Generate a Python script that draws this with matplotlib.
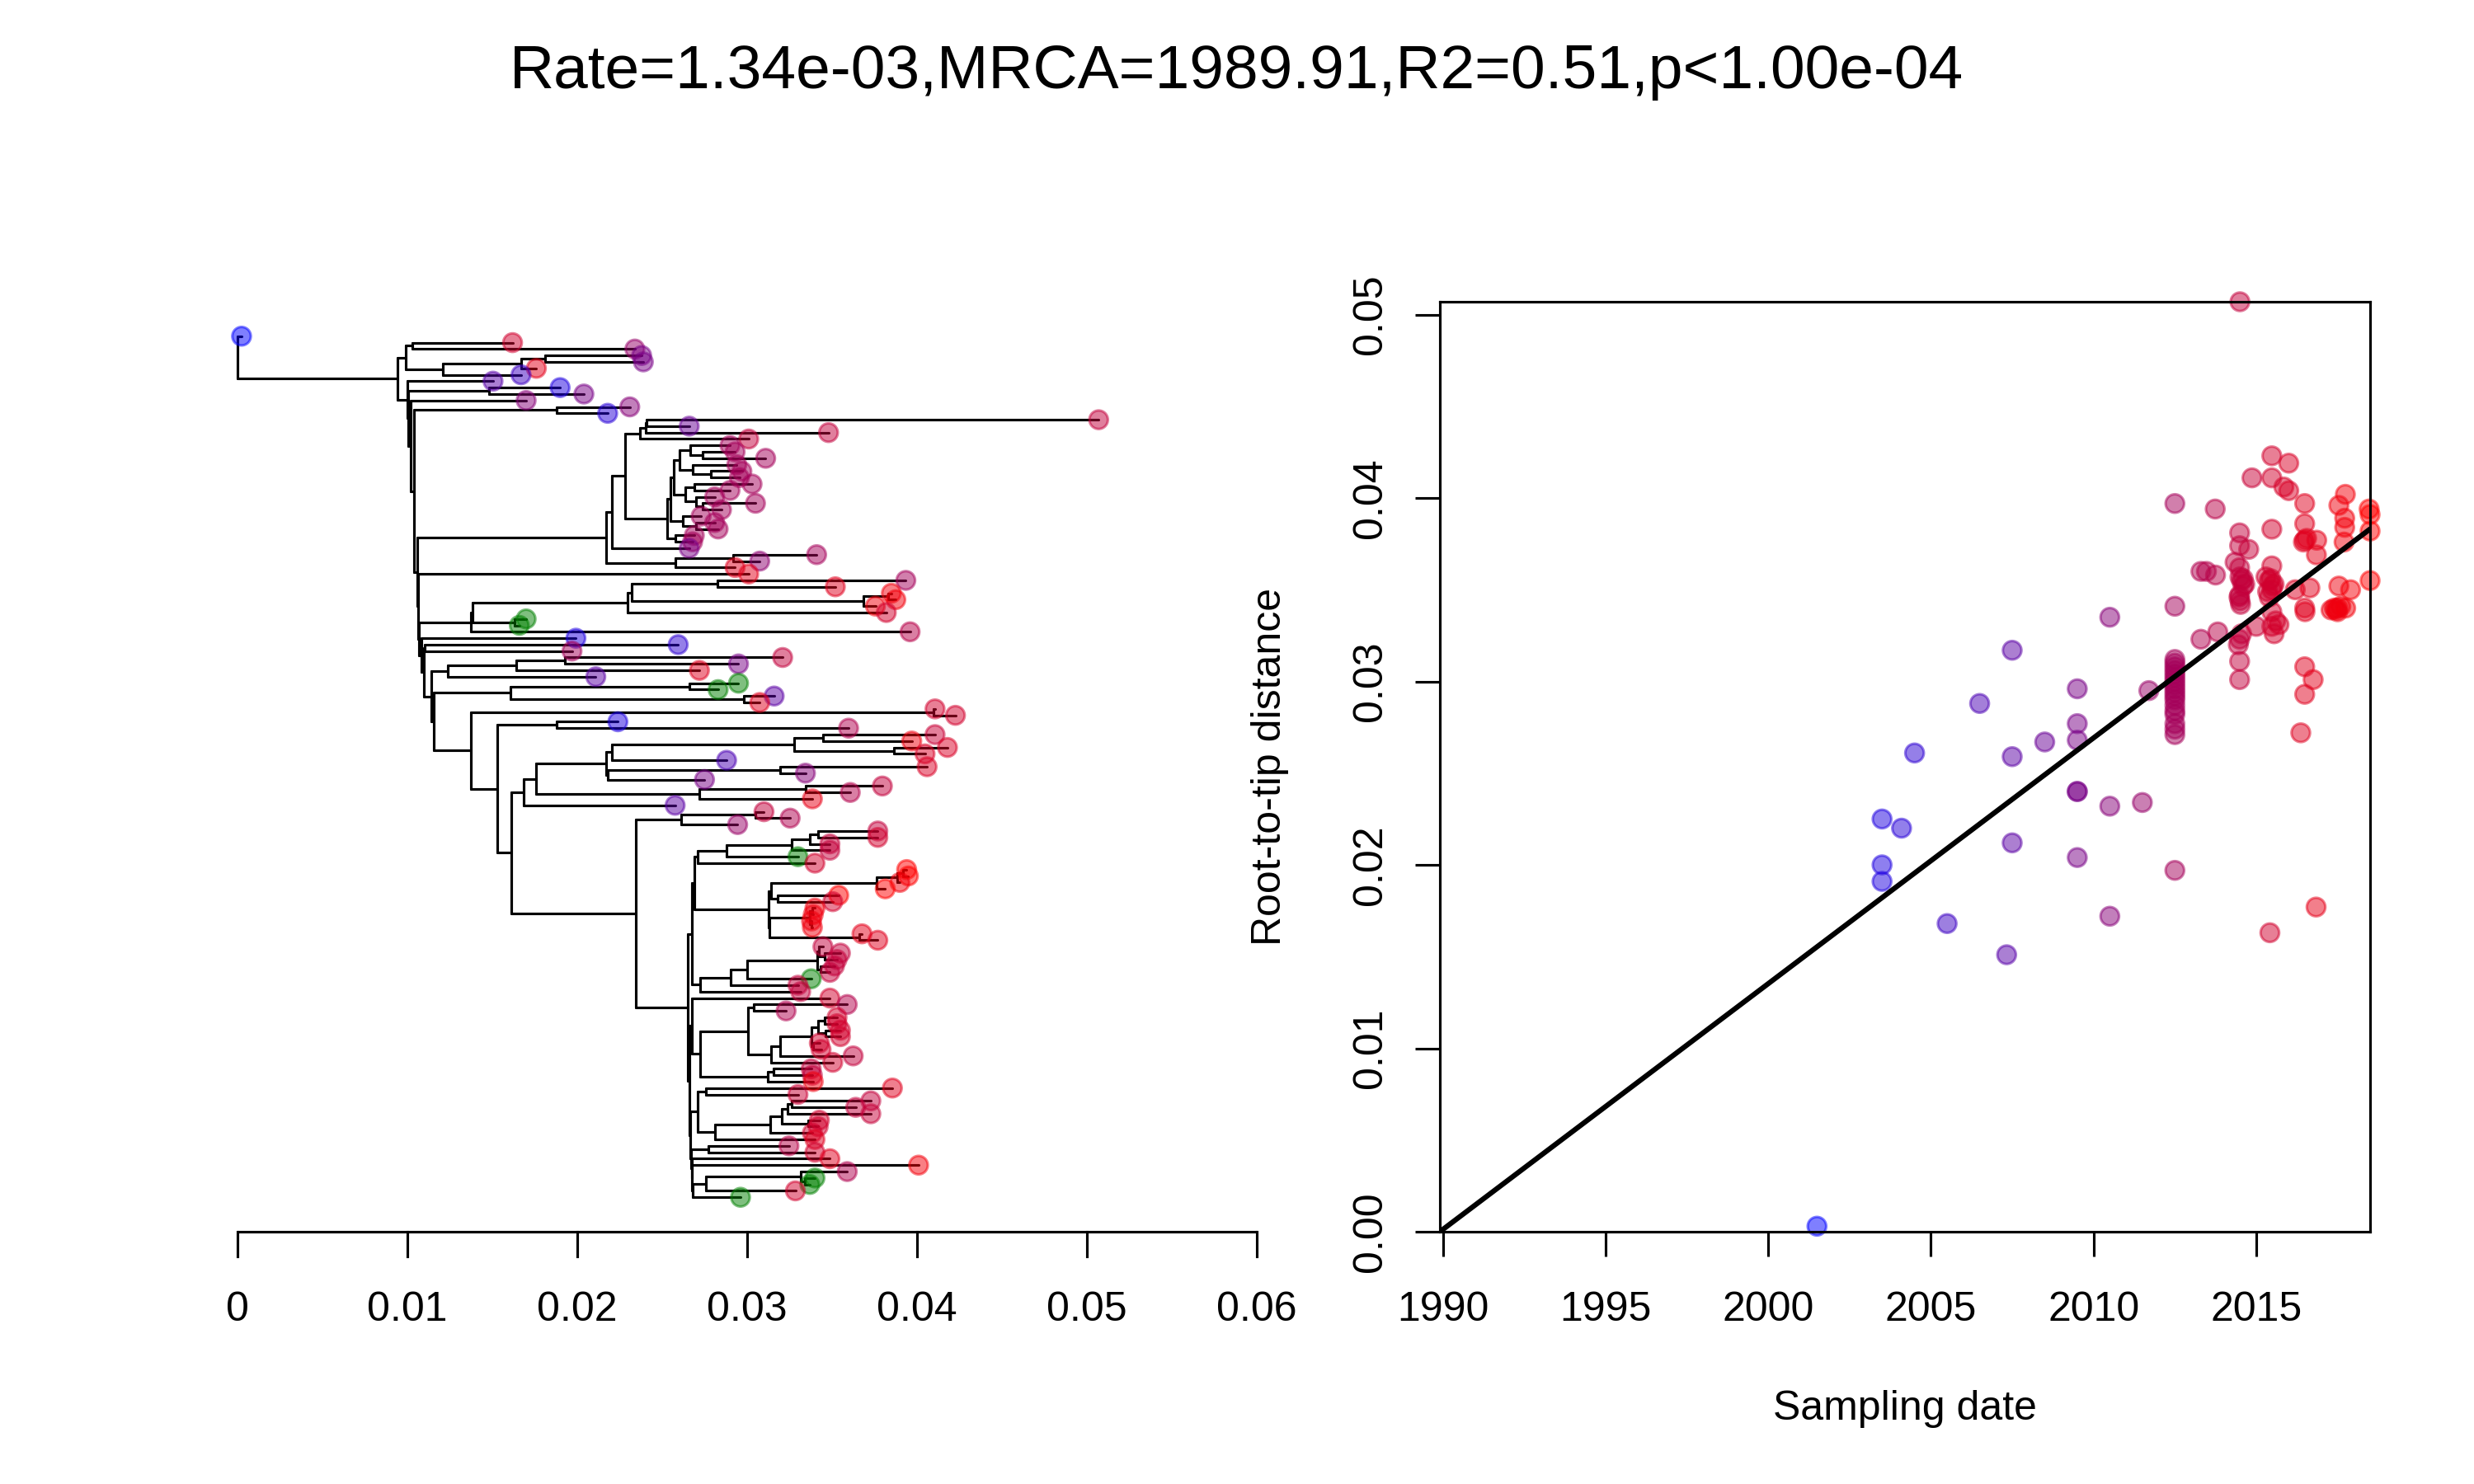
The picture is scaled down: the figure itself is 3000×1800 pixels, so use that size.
import numpy as np
import matplotlib
matplotlib.use("Agg")
import matplotlib.pyplot as plt
from matplotlib.collections import LineCollection
from matplotlib import transforms

plt.rcParams['font.family'] = ['Liberation Sans', 'DejaVu Sans']

# ---------------- data ----------------
title_text = "Rate=1.34e-03,MRCA=1989.91,R2=0.51,p<1.00e-04"
rate = 1.34e-3
mrca = 1989.91

# root-to-tip scatter (sampling date, root-to-tip distance)
scatter_dates = [
    2001.5, 2003.5, 2004.1, 2003.5, 2003.5, 2004.5, 2005.5, 2006.5, 2007.5, 2007.5,
    2007.5, 2007.33, 2008.5, 2009.5, 2009.5, 2009.5, 2009.5, 2009.5, 2009.5, 2010.5,
    2010.5, 2010.5, 2011.5, 2011.7, 2012.5, 2012.5, 2012.5,
    2012.5, 2012.5, 2012.5, 2012.5, 2012.5, 2012.5, 2012.5, 2012.5, 2012.5,
    2012.5, 2012.5, 2012.5, 2012.5, 2012.5, 2012.5, 2012.5, 2012.5, 2012.5,
    2013.3, 2013.47, 2013.75, 2013.74, 2013.3, 2013.82,
    2014.5, 2014.49, 2014.49, 2014.77, 2014.35, 2014.49, 2014.6, 2014.65, 2014.55,
    2014.49, 2014.5, 2014.52, 2014.49, 2014.55, 2014.49, 2014.49, 2014.87, 2015.0,
    2015.48, 2015.48, 2016.0, 2015.85, 2016.0, 2015.48, 2015.48, 2015.3, 2015.4,
    2015.55, 2015.48, 2015.4, 2015.48, 2015.48, 2015.7, 2015.42,
    2016.49, 2016.49, 2016.49, 2016.55, 2016.86, 2016.85, 2016.2, 2016.65, 2016.49,
    2016.5, 2016.49, 2016.75, 2016.49, 2016.37, 2016.84,
    2017.74, 2017.54, 2017.72, 2017.72, 2017.7, 2017.54, 2017.9, 2017.3, 2017.4,
    2017.5, 2017.6, 2017.5, 2017.75,
    2018.47, 2018.5, 2018.5, 2018.5,
    2014.5, 2014.6, 2014.47, 2015.45, 2015.5, 2015.35, 2015.55, 2016.45, 2017.45,
    2014.45, 2015.6,
]
scatter_dists = [
    0.0003, 0.0225, 0.0220, 0.0200, 0.0191, 0.0261, 0.0168, 0.0288, 0.0317, 0.0259,
    0.0212, 0.0151, 0.0267, 0.0296, 0.0277, 0.0268, 0.0240, 0.0240, 0.0204, 0.0335,
    0.0232, 0.0172, 0.0234, 0.0295, 0.0397, 0.0341, 0.0197,
    0.0312, 0.0310, 0.0308, 0.0306, 0.0304, 0.0302, 0.0300, 0.0298, 0.0296,
    0.0294, 0.0292, 0.0290, 0.0287, 0.0284, 0.0282, 0.0277, 0.0274, 0.0271,
    0.0360, 0.0360, 0.0358, 0.0394, 0.0323, 0.0327,
    0.0507, 0.0381, 0.0374, 0.0372, 0.0365, 0.0362, 0.0356, 0.0353, 0.0355,
    0.0347, 0.0344, 0.0342, 0.0323, 0.0326, 0.0311, 0.0301, 0.0411, 0.0330,
    0.0423, 0.0411, 0.0419, 0.0406, 0.0404, 0.0383, 0.0363, 0.0357, 0.0355,
    0.0353, 0.0350, 0.0346, 0.0338, 0.0330, 0.0331, 0.0163,
    0.0397, 0.0386, 0.0377, 0.0378, 0.0377, 0.0369, 0.0350, 0.0351, 0.0340,
    0.0338, 0.0308, 0.0301, 0.0293, 0.0272, 0.0177,
    0.0402, 0.0396, 0.0389, 0.0384, 0.0376, 0.0352, 0.0350, 0.0339, 0.0340,
    0.0340, 0.0341, 0.0338, 0.0340,
    0.0394, 0.0391, 0.0382, 0.0355,
    0.0357, 0.0352, 0.0346, 0.0356, 0.0352, 0.0349, 0.0326, 0.0376, 0.0339,
    0.0320, 0.0333,
]

# sampling dates of tree tips t1..t135 (nan = undated, drawn green)
nan = float('nan')
tip_dates = [
    2001.5, 2015.4, 2011.5, 2009.5, 2009.5, 2016.8, 2005.5, 2007.3, 2003.5, 2009.5,
    2010.5, 2010.5, 2004.1, 2014.5, 2008.5, 2014.5, 2014.5, 2012.5, 2012.5, 2012.5,
    2012.5, 2012.5, 2012.5, 2012.5, 2012.5, 2012.5, 2012.5, 2012.5, 2012.5, 2012.5,
    2012.5, 2012.5, 2012.5, 2009.5, 2012.5, 2011.0, 2016.5, 2016.8, 2012.5, 2016.5,
    2017.7, 2017.7, 2017.7, 2015.5, nan, nan, 2013.7, 2003.5, 2004.5, 2012.5,
    2014.5, 2009.5, 2016.4, 2007.5, nan, nan, 2007.5, 2016.5, 2015.5, 2015.5,
    2003.5, 2013.3, 2014.9, 2017.5, 2016.0, 2016.0, 2006.5, 2016.0, 2010.5, 2009.5,
    2014.5, 2013.5, 2017.0, 2007.5, 2014.5, 2013.3, 2011.7, 2014.5, 2015.5, 2014.6,
    2014.6, nan, 2015.5, 2018.5, 2018.5, 2017.7, 2018.5, 2018.5, 2015.5, 2017.5,
    2017.5, 2017.5, 2017.5, 2016.8, 2016.5, 2014.5, 2014.5, 2014.6, 2014.6, 2014.6,
    nan, 2014.5, 2014.5, 2015.5, 2013.5, 2013.3, 2015.5, 2015.5, 2015.5, 2015.5,
    2015.5, 2015.5, 2014.5, 2015.5, 2014.5, 2014.5, 2017.5, 2016.5, 2015.0, 2014.5,
    2014.5, 2014.7, 2015.5, 2015.5, 2015.5, 2016.5, 2013.8, 2015.5, 2016.5, 2017.8,
    2013.3, nan, nan, 2015.5, nan,
]

# tree (Newick fragments, branch lengths in units of 1e-4 substitutions/site)
BL_UNIT = 1e-4
nw_N772 = "(((t18:23.6,(t19:19,t20:37):7.6):5.9,(t21:26,(t22:18.5,t23:17):10.5):7.5):3.5,((t24:34,t25:21):5.4,(t26:11,(t27:31,t28:11):4):6.4):6.6)"
nw_N788 = "(t29:11,(t30:11,t31:13):8)"
nw_N762 = "((" + nw_N772 + ":2," + nw_N788 + ":7):2,(t32:11,t33:10):5)"
nw_A = "((((((t14:266,t15:25):0.5,t16:107.5):3.5,t17:64):8.5," + nw_N762 + ":24.5):7.9,t34:45.4):3.6,((t35:49,t36:15.5):34,t37:35):41)"
nw_B = "(((((t39:111,t40:69.5):50.5,((t41:2,t42:4.6):14.6,t43:7.2):136.4):2.5,t44:152.5):91,(t45:7,t46:3):24.5):1,t47:258.5)"
nw_N657 = "((((t63:66,t64:52.3):16.7,(t65:31.4,t66:18.2):58.6):107.4,t67:67.4):3.6,((t68:86.4,t69:14.8):101.4,t70:56.8):1.2)"
nw_N817 = "((t71:45.3,t72:26.4):62.4,t73:66.5)"
nw_N813 = "(((((t78:35,t79:35):5.2,t80:12):10.3,t81:22.3):38.5,t82:42):17.2,t83:69.2)"
nw_N935 = "(((((t84:2.2,t85:3.2):3.5,t86:1.7):12,t87:5.1):61.9,(t88:36.1,t89:32.6):3.5):1.7,(((t90:1.5,t91:0.5):1.7,(t92:0.2,t93:0.7):1):23.6,(t94:1.7,t95:11):52.8):0.5)"
nw_N818 = "(((((t96:2.2,(t97:9.5,t98:7.5):3):1.3,(t99:8,t100:5.3):2.3):41.2,t101:37.8):9.6,t102:39.6):17.9,t103:59.1)"
nw_N818b = "(((t105:55,t106:19):3.3,(((((t107:7.5,t108:7.5):3.5,(t109:9,t110:9):4):4.2,(t111:3.6,t112:4.6):1.2):18.2,t113:42.9):5.2,t114:36.1):13.7):28.2,((t115:22.3,t116:23):3.5,t117:27):39.5)"
nw_N813b = "((t118:109.6,t119:54):5.2,(((((t120:46.4,t121:37.5):2.5,t122:48.9):3.4,(t123:6.6,t124:5.9):15.4):6.9,t125:24.8):32.7,t126:59):10.2)"
nw_Q9 = "(((t131:27.4,(t132:6,t133:3):2.4):55.6,t134:52.5):8,t135:28.2)"

nw_Q8 = "(t130:133.2," + nw_Q9 + ":0.2)"
nw_Q7 = "(t129:81.4," + nw_Q8 + ":0.4)"
nw_Q6 = "((t127:47.4,t128:62.7):10.3," + nw_Q7 + ":0.4)"
nw_Q5 = "(" + nw_N813b + ":4.3," + nw_Q6 + ":0.5)"
nw_Q4 = "(t104:81.4," + nw_N818b + ":5.1)"
nw_Q3 = "(" + nw_Q4 + ":1.4," + nw_Q5 + ":0.5)"
nw_Q1 = "((" + nw_N813 + ":1.8," + nw_N935 + ":43.7):1.6," + nw_N818 + ":5.1)"
nw_N797 = "(" + nw_Q1 + ":2.1," + nw_Q3 + ":0.7)"
nw_N707 = "(((t75:5.2,t76:20.6):43.6,t77:33.3):26.8," + nw_N797 + ":30.9)"
nw_N537 = "(" + nw_N657 + ":41," + nw_N817 + ":96)"
nw_N515 = "(" + nw_N537 + ":7.6,t74:89.3)"
nw_N495 = "(" + nw_N515 + ":6.9," + nw_N707 + ":72.9)"
nw_N470 = "((t61:36,t62:171.8):35.1," + nw_N495 + ":8.6)"
nw_C = "((t59:1.1,t60:13.1):272.1," + nw_N470 + ":15.4)"
nw_P9 = "(((t55:29,t56:17):105.2,(t57:18,t58:9.5):137.2):45," + nw_C + ":21.7)"
nw_P8 = "((((t51:128,t52:102):29,t53:108):40.3,t54:87.3):9.3," + nw_P9 + ":1.4)"
nw_P7 = "((t49:149.2,t50:86.7):0.3," + nw_P8 + ":4.4)"
nw_P6 = "(t48:91.1," + nw_P7 + ":1.8)"
nw_P5c = "(" + nw_B + ":30.5," + nw_P6 + ":1.2)"
nw_P5b = "(t38:194.5," + nw_P5c + ":0.5)"
nw_P5 = "(" + nw_A + ":111," + nw_P5b + ":0.5)"
nw_P4 = "((t12:43,t13:30):84," + nw_P5 + ":2)"
nw_P3 = "(t11:68," + nw_P4 + ":2)"
nw_P2 = "((t9:42,t10:56):47.3," + nw_P3 + ":1.3)"
nw_P1 = "(t8:50.5," + nw_P2 + ":0.7)"
nw_Bt = "((t2:59,t3:131):4,(((t4:57,t5:58):14,t6:9):46,t7:46):22)"
nw_NA = "(" + nw_Bt + ":4.5," + nw_P1 + ":5.5)"
tree_newick = "(t1:2.5," + nw_NA + ":94.5);"

tree_ticks = [0, 0.01, 0.02, 0.03, 0.04, 0.05, 0.06]
tree_tick_labels = ["0", "0.01", "0.02", "0.03", "0.04", "0.05", "0.06"]
date_ticks = [1990, 1995, 2000, 2005, 2010, 2015]
dist_ticks = [0.00, 0.01, 0.02, 0.03, 0.04, 0.05]


# ---------------- helpers ----------------
def parse_newick(s):
    s = s.strip().rstrip(';')
    pos = [0]

    def node():
        n = {'children': [], 'name': '', 'len': 0.0}
        if s[pos[0]] == '(':
            pos[0] += 1
            while True:
                n['children'].append(node())
                ch = s[pos[0]]
                pos[0] += 1
                if ch == ')':
                    break
        start = pos[0]
        while pos[0] < len(s) and s[pos[0]] not in ':,()':
            pos[0] += 1
        n['name'] = s[start:pos[0]]
        if pos[0] < len(s) and s[pos[0]] == ':':
            pos[0] += 1
            start = pos[0]
            while pos[0] < len(s) and s[pos[0]] not in ',()':
                pos[0] += 1
            n['len'] = float(s[start:pos[0]])
        return n
    return node()


tree = parse_newick(tree_newick)
tips = []


def layout(n, x):
    n['x'] = x
    if n['children']:
        for c in n['children']:
            layout(c, x + c['len'] * BL_UNIT)
        n['y'] = 0.5 * (n['children'][0]['y'] + n['children'][-1]['y'])
    else:
        tips.append(n)
        n['y'] = float(len(tips))


layout(tree, 0.0)
segs = []


def collect(n):
    if n['children']:
        ys = [c['y'] for c in n['children']]
        segs.append([(n['x'], ys[0]), (n['x'], ys[-1])])
        for c in n['children']:
            segs.append([(n['x'], c['y']), (c['x'], c['y'])])
            collect(c)


collect(tree)

dmin = np.nanmin(scatter_dates)
dmax = np.nanmax(scatter_dates)


def date_color(d):
    if d != d:
        return (0.0, 0.5, 0.0, 0.5)
    t = (d - dmin) / (dmax - dmin)
    t = min(max(t, 0.0), 1.0)
    return (t, 0.0, 1.0 - t, 0.5)


# ---------------- figure ----------------
W, H = 3000, 1800
fig = plt.figure(figsize=(10, 6), dpi=300)
fig.patch.set_facecolor('white')


def fxp(px):
    return px / W


def fyp(py):
    return 1 - py / H


ax_t = fig.add_axes([fxp(246), fyp(1494), 1128 / W, 1128 / H])
ax_r = fig.add_axes([fxp(1746), fyp(1494), 1128 / W, 1128 / H])

# --- tree panel ---
N = len(tips)
xmax = max(t['x'] for t in tips)
ax_t.set_xlim(-0.04 * xmax, 1.04 * xmax)
ax_t.set_ylim(N + 0.04 * (N - 1), 1 - 0.04 * (N - 1))
ax_t.axis('off')
ax_t.add_collection(LineCollection(segs, colors='black', linewidths=0.75,
                                   capstyle='round'))
tip_cols = [date_color(tip_dates[int(t['name'][1:]) - 1]) for t in tips]
ax_t.scatter([t['x'] for t in tips], [t['y'] for t in tips], s=29,
             c=tip_cols, edgecolors=tip_cols, linewidths=0.75, zorder=3,
             clip_on=False)

tr_xa = transforms.blended_transform_factory(ax_t.transData, ax_t.transAxes)
ax_t.plot([tree_ticks[0], tree_ticks[-1]], [0, 0], color='black', lw=0.75,
          transform=tr_xa, clip_on=False, solid_capstyle='butt')
for tv in tree_ticks:
    ax_t.plot([tv, tv], [0, -30 / 1128], color='black', lw=0.75,
              transform=tr_xa, clip_on=False)
tr_xf = transforms.blended_transform_factory(ax_t.transData, fig.transFigure)
for tv, tl in zip(tree_ticks, tree_tick_labels):
    fig.text(tv, fyp(1602), tl, transform=tr_xf, ha='center', va='baseline',
             fontsize=12)

# --- root-to-tip panel ---
sc_cols = [date_color(d) for d in scatter_dates]
ax_r.scatter(scatter_dates, scatter_dists, s=29, c=sc_cols, edgecolors=sc_cols,
             linewidths=0.75, zorder=2, clip_on=False)
ax_r.plot([mrca, dmax], [0, rate * (dmax - mrca)], color='black', lw=1.5,
          zorder=3, solid_capstyle='round')
ax_r.set_xlim(mrca, dmax)
ax_r.set_ylim(0, max(scatter_dists))
ax_r.set_xticks(date_ticks)
ax_r.set_yticks(dist_ticks)
ax_r.tick_params(direction='out', length=7.2, width=0.75,
                 labelbottom=False, labelleft=False)
for sp in ax_r.spines.values():
    sp.set_linewidth(0.75)

tr_rx = transforms.blended_transform_factory(ax_r.transData, fig.transFigure)
for dv in date_ticks:
    fig.text(dv, fyp(1602), str(dv), transform=tr_rx, ha='center',
             va='baseline', fontsize=12)
tr_ry = transforms.blended_transform_factory(fig.transFigure, ax_r.transData)
for yv in dist_ticks:
    fig.text(fxp(1675), yv, "%.2f" % yv, transform=tr_ry, ha='center',
             va='baseline', rotation=90, rotation_mode='anchor', fontsize=12)

fig.text(fxp(2310), fyp(1722), "Sampling date", ha='center', va='baseline',
         fontsize=12)
fig.text(fxp(1553), fyp(930), "Root-to-tip distance", ha='center',
         va='baseline', rotation=90, rotation_mode='anchor', fontsize=12)

fig.text(0.5, fyp(107), title_text, ha='center', va='baseline', fontsize=18)

fig.savefig("out.png", dpi=300, facecolor='white')
